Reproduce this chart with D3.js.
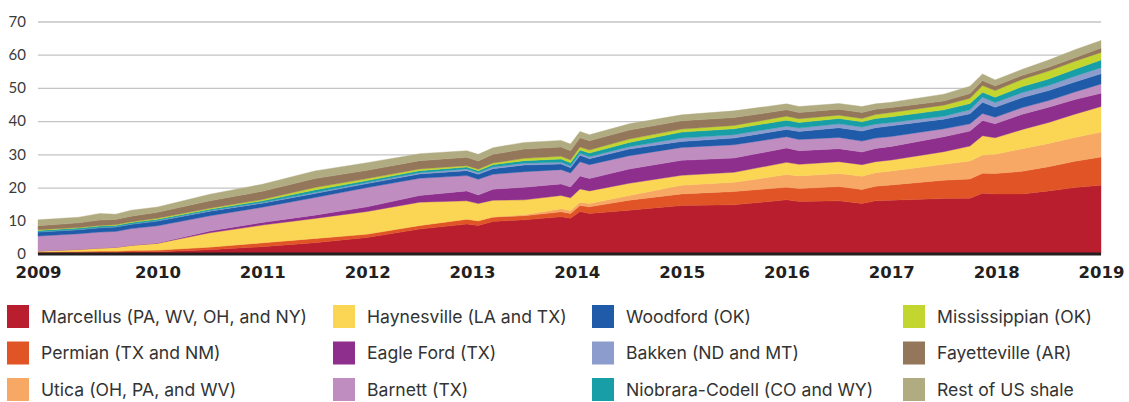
<!DOCTYPE html>
<html>
<head>
<meta charset="utf-8">
<script src="https://cdn.jsdelivr.net/npm/d3@7"></script>
<style>
  html, body { margin: 0; padding: 0; background: #fff; }
  svg { display: block; }
</style>
</head>
<body>
<svg id="chart" width="1129" height="402"></svg>
<script>
// ---------------- DATA ----------------
const years = [2008.86, 2009.25, 2009.45, 2009.6, 2009.75, 2010.0, 2010.5, 2011.0, 2011.5, 2012.0, 2012.5, 2012.95, 2013.06, 2013.2, 2013.5, 2013.85, 2013.94, 2014.03, 2014.12, 2014.5, 2015.0, 2015.5,
               2016.0, 2016.12, 2016.5, 2016.72, 2016.85, 2017.0, 2017.5, 2017.75, 2017.87, 2017.99, 2018.25, 2018.5, 2018.75, 2019.0];

const marcellus    = [0.3,0.4,0.5,0.5,0.6,0.7,1.3,2.2,3.4,5.0,7.5,9.0,8.6,9.8,10.3,11.2,10.8,12.8,12.2,13.2,14.6,14.8, 16.3,15.8,16.0,15.2,16.0,16.2,16.7,16.8,18.3,18.1,18.1,19.0,20.0,20.7];
const permian      = [0.3,0.4,0.4,0.4,0.5,0.5,0.8,1.2,1.3,1.0,1.1,1.5,1.4,1.3,1.2,1.5,1.4,1.8,2.0,3.0,3.5,4.0, 3.8,3.9,4.3,4.2,4.4,4.6,5.5,5.8,6.0,6.1,6.8,7.3,7.9,8.5];
const utica        = [0,0,0,0,0,0,0,0,0,0,0,0,0,0.1,0.3,0.9,0.9,1.0,1.0,1.4,2.6,2.8, 3.8,3.8,3.9,4.0,4.1,4.2,4.8,5.4,5.5,5.8,6.8,7.0,7.2,7.5];
const haynesville  = [0.3,0.6,0.9,1.1,1.5,2.0,4.3,5.3,6.0,6.8,7.0,5.5,5.2,5.0,4.5,4.0,3.8,4.0,3.8,3.7,3.0,3.0, 3.7,3.5,3.6,3.5,3.3,3.3,3.8,4.5,5.8,5.0,5.8,6.3,7.0,7.7];
const eagleFord    = [0,0,0,0,0.05,0.1,0.5,0.8,1.0,1.4,2.0,3.0,2.6,3.3,3.8,3.5,3.3,3.9,3.7,4.3,4.5,4.3, 4.3,4.1,3.9,3.8,4.0,4.1,4.5,4.5,4.6,4.2,4.6,4.6,4.4,4.0];
const barnett      = [4.5,4.7,4.8,4.8,5.0,5.2,4.6,4.6,5.3,5.8,5.2,4.6,4.7,4.5,4.7,4.3,4.2,4.3,4.2,4.0,3.9,4.0, 3.4,3.4,3.4,3.3,3.1,3.0,2.4,2.2,2.1,2.0,2.0,2.0,2.3,2.8];
const woodford     = [1.2,1.2,1.3,1.3,1.3,1.4,1.4,1.2,1.2,1.2,1.3,1.5,1.5,1.7,2.0,1.7,1.6,1.9,1.8,2.0,1.8,2.0, 2.2,2.4,2.9,3.0,3.1,3.2,2.9,3.0,3.4,3.0,3.0,3.0,3.0,3.1];
const bakken       = [0.1,0.1,0.1,0.1,0.1,0.15,0.2,0.2,0.3,0.3,0.4,0.5,0.5,0.5,0.5,0.5,0.5,0.6,0.6,0.7,1.0,1.0, 1.0,1.0,1.2,1.2,1.1,1.0,0.9,1.2,1.5,1.4,1.5,1.5,1.7,1.8];
const niobrara     = [0.4,0.4,0.4,0.4,0.4,0.4,0.4,0.5,0.8,0.6,0.6,0.6,0.6,0.7,0.8,1.0,1.0,1.0,1.1,1.3,1.8,1.8, 1.8,1.7,1.6,1.6,1.7,1.7,1.9,1.9,1.5,1.6,1.8,2.0,2.1,2.3];
const mississippian= [0.2,0.2,0.2,0.2,0.25,0.3,0.3,0.4,0.7,0.6,0.5,0.4,0.4,0.5,0.7,0.8,0.8,0.9,0.9,1.0,0.9,1.0, 1.2,1.1,1.0,1.0,1.2,1.3,1.4,1.6,2.0,2.0,2.2,2.4,2.4,2.3];
const fayetteville = [1.2,1.4,1.6,1.6,1.7,1.8,2.2,2.5,2.7,2.5,2.5,2.5,2.5,2.6,2.8,2.8,2.8,2.8,2.8,2.7,2.5,2.4, 1.9,1.9,1.8,1.8,1.6,1.5,1.3,1.4,1.5,1.4,1.2,1.1,1.1,1.3];
const restOfUS     = [1.8,1.7,2.0,1.6,1.8,1.6,2.0,2.1,2.3,2.3,2.1,2.0,2.0,2.0,2.0,2.0,2.0,1.9,1.8,1.9,1.8,2.0, 1.8,1.8,1.7,1.8,1.6,1.6,2.0,2.2,2.0,1.8,1.8,2.2,2.4,2.3];

const seriesNames = ["Marcellus (PA, WV, OH, and NY)", "Permian (TX and NM)", "Utica (OH, PA, and WV)",
                     "Haynesville (LA and TX)", "Eagle Ford (TX)", "Barnett (TX)",
                     "Woodford (OK)", "Bakken (ND and MT)", "Niobrara-Codell (CO and WY)",
                     "Mississippian (OK)", "Fayetteville (AR)", "Rest of US shale"];
const seriesValues = [marcellus, permian, utica, haynesville, eagleFord, barnett, woodford, bakken, niobrara, mississippian, fayetteville, restOfUS];
const seriesColors = ["#B91E2E", "#E05426", "#F6A864", "#FBD654", "#8E2E8D", "#BF8DBF",
                      "#1F5BA8", "#8C9CCD", "#189EA6", "#C3D52F", "#94775A", "#B1AB81"];

const yTicks = [0, 10, 20, 30, 40, 50, 60, 70];
const xTicks = [2009, 2010, 2011, 2012, 2013, 2014, 2015, 2016, 2017, 2018, 2019];

// ---------------- CHART ----------------
const svg = d3.select("#chart");
const plotLeft = 38, plotRight = 1101, plotTop = 21.5, plotBottom = 254;

const x = d3.scaleLinear().domain([2008.86, 2019.0]).range([plotLeft, plotRight]);
const y = d3.scaleLinear().domain([0, 70]).range([plotBottom, plotTop]);

const table = years.map((yr, i) => {
  const row = { year: yr };
  seriesNames.forEach((n, k) => { row[n] = seriesValues[k][i]; });
  return row;
});

// gridlines
const grid = svg.append("g")
  .attr("transform", `translate(${plotLeft},0)`)
  .call(d3.axisLeft(y).tickValues(yTicks.filter(d => d > 0)).tickSize(-(plotRight - plotLeft)).tickFormat(""));
grid.select(".domain").remove();
grid.selectAll("line").attr("stroke", "#c4c4c4").attr("stroke-width", 1.3);

// stacked areas
const stack = d3.stack().keys(seriesNames);
const layers = stack(table);
const area = d3.area()
  .x(d => x(d.data.year))
  .y0(d => y(d[0]))
  .y1(d => y(d[1]));

svg.append("g").selectAll("path")
  .data(layers)
  .join("path")
  .attr("d", area)
  .attr("fill", (d, i) => seriesColors[i])
  .attr("stroke", (d, i) => seriesColors[i])
  .attr("stroke-width", 0.4);

// baseline
svg.append("line")
  .attr("x1", plotLeft).attr("x2", plotRight)
  .attr("y1", y(0)).attr("y2", y(0))
  .attr("stroke", "#231F20").attr("stroke-width", 3);

// y axis labels
const yAxis = svg.append("g")
  .attr("transform", `translate(${plotLeft},0)`)
  .call(d3.axisLeft(y).tickValues(yTicks).tickSize(0).tickPadding(12));
yAxis.select(".domain").remove();
yAxis.selectAll("text")
  .attr("font-family", "Lato, 'DejaVu Sans', sans-serif")
  .attr("font-size", 15)
  .attr("fill", "#3a3a3a");

// x axis labels
const xAxis = svg.append("g")
  .attr("transform", `translate(0,${plotBottom})`)
  .call(d3.axisBottom(x).tickValues(xTicks).tickFormat(d3.format("d")).tickSize(0).tickPadding(12));
xAxis.select(".domain").remove();
xAxis.selectAll("text")
  .attr("font-family", "'DejaVu Sans', sans-serif")
  .attr("font-weight", "bold")
  .attr("font-size", 16.5)
  .attr("fill", "#231F20")
  .attr("dx", d => d === xTicks[0] ? (x.range()[0] - x(xTicks[0])) : 0);

// legend
const colX = [7, 333, 592, 903];
const rowY = [305, 341.5, 378];
const legend = svg.append("g");
seriesNames.forEach((name, i) => {
  const c = Math.floor(i / 3), r = i % 3;
  const g = legend.append("g").attr("transform", `translate(${colX[c]},${rowY[r]})`);
  g.append("rect").attr("width", 22).attr("height", 23).attr("fill", seriesColors[i]);
  g.append("text")
    .attr("x", 34).attr("y", 11.5).attr("dy", "0.36em")
    .attr("font-family", "Inter, 'Noto Sans', sans-serif")
    .attr("font-size", 17.6)
    .attr("fill", "#333")
    .text(name);
});
</script>
</body>
</html>
